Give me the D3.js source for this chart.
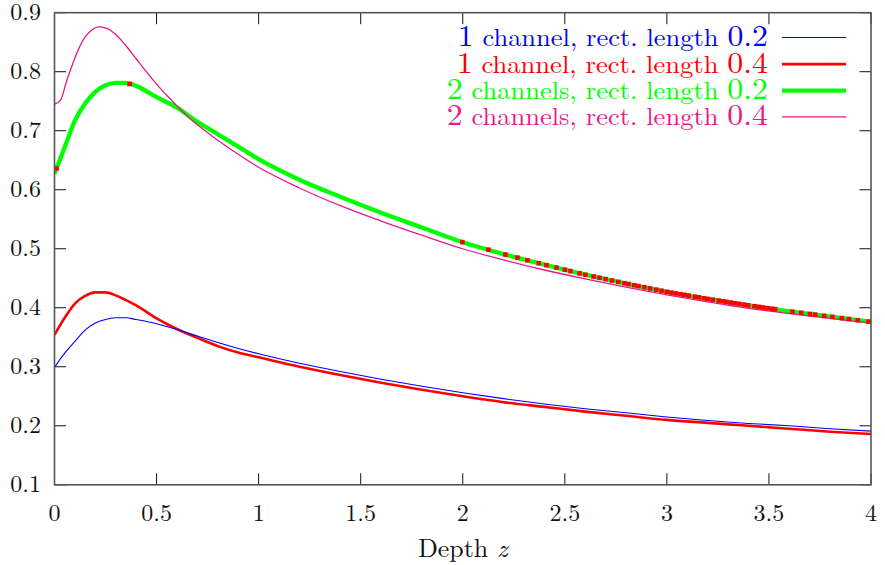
<!DOCTYPE html>
<html>
<head>
<meta charset="utf-8">
<script src="https://cdn.jsdelivr.net/npm/d3@7"></script>
<style>
  html, body { margin: 0; padding: 0; background: #fff; }
</style>
</head>
<body>
<svg id="chart" width="885" height="565"></svg>
<script>
// ---- data ----
const xTicks = [0, 0.5, 1, 1.5, 2, 2.5, 3, 3.5, 4];
const xTickLabels = ["0", "0.5", "1", "1.5", "2", "2.5", "3", "3.5", "4"];
const yTicks = [0.1, 0.2, 0.3, 0.4, 0.5, 0.6, 0.7, 0.8, 0.9];
const yTickLabels = ["0.1", "0.2", "0.3", "0.4", "0.5", "0.6", "0.7", "0.8", "0.9"];

const depth = [0, 0.05, 0.1, 0.15, 0.2, 0.25, 0.3, 0.35, 0.4, 0.5, 0.6, 0.7, 0.8, 0.9, 1.0,
               1.2, 1.4, 1.6, 1.8, 2.0, 2.2, 2.4, 2.6, 2.8, 3.0, 3.2, 3.4, 3.6, 3.8, 4.0];

const oneChan02 = [0.299, 0.323, 0.343, 0.362, 0.374, 0.380, 0.383, 0.383, 0.380, 0.373, 0.363, 0.352, 0.341, 0.331, 0.322,
                   0.306, 0.292, 0.279, 0.267, 0.256, 0.246, 0.237, 0.229, 0.222, 0.215, 0.209, 0.204, 0.200, 0.195, 0.191];
const oneChan04 = [0.354, 0.383, 0.407, 0.420, 0.426, 0.426, 0.421, 0.413, 0.404, 0.382, 0.364, 0.349, 0.335, 0.324, 0.316,
                   0.300, 0.286, 0.273, 0.261, 0.250, 0.240, 0.232, 0.224, 0.217, 0.210, 0.205, 0.200, 0.195, 0.190, 0.186];
const twoChan02 = [0.627, 0.672, 0.717, 0.746, 0.766, 0.777, 0.781, 0.781, 0.776, 0.757, 0.739, 0.715, 0.694, 0.673, 0.652,
                   0.617, 0.588, 0.561, 0.536, 0.511, 0.491, 0.473, 0.456, 0.441, 0.427, 0.415, 0.404, 0.394, 0.385, 0.376];

const depthPink = [0, 0.03, 0.06, 0.09, 0.12, 0.15, 0.18, 0.22, 0.26, 0.3, 0.35, 0.4, 0.45, 0.5, 0.55, 0.6, 0.65, 0.7, 0.8, 0.9, 1.0,
                   1.2, 1.4, 1.6, 1.8, 2.0, 2.2, 2.4, 2.6, 2.8, 3.0, 3.2, 3.4, 3.6, 3.8, 4.0];
const twoChan04 = [0.745, 0.752, 0.785, 0.814, 0.840, 0.859, 0.870, 0.876, 0.873, 0.863, 0.844, 0.822, 0.800, 0.779, 0.760, 0.742, 0.725, 0.710, 0.684, 0.660, 0.638,
                   0.603, 0.573, 0.547, 0.523, 0.500, 0.481, 0.464, 0.449, 0.435, 0.422, 0.410, 0.399, 0.390, 0.382, 0.374];

// red specks visible on top of the green curve (depth positions)
const redSpecks = [0.01, 0.368, 1.998, 2.126, 2.209, 2.268, 2.317, 2.372, 2.41, 2.459, 2.5, 2.528, 2.572, 2.601, 2.641, 2.67,
                   2.7, 2.731, 2.762, 2.792, 2.812, 2.84, 2.861, 2.89, 2.918, 2.948, 2.974, 3.0, 3.022, 3.043, 3.066, 3.086,
                   3.107, 3.138, 3.156, 3.181, 3.202, 3.225, 3.254, 3.272, 3.291, 3.312, 3.332, 3.355, 3.378, 3.398, 3.429,
                   3.45, 3.471, 3.494, 3.516, 3.53, 3.615, 3.658, 3.701, 3.727, 3.771, 3.811, 3.857, 3.892, 3.935, 3.988];

const seriesNames = ["1 channel, rect. length 0.2", "1 channel, rect. length 0.4",
                     "2 channels, rect. length 0.2", "2 channels, rect. length 0.4"];
const legendParts = [["1", " channel, rect. length ", "0.2"], ["1", " channel, rect. length ", "0.4"],
                     ["2", " channels, rect. length ", "0.2"], ["2", " channels, rect. length ", "0.4"]];
const colors = ["#0000ff", "#ff0000", "#00ff00", "#e8198b"];
const widths = [1.1, 2.6, 4.3, 1.3];

// ---- drawing ----
const FONT = "'Latin Modern Roman', 'Liberation Serif', serif";
const svg = d3.select("#chart");
const L = 54.5, R = 871, T = 12.7, B = 484.8;
const x = d3.scaleLinear().domain([0, 4]).range([L, R]);
const y = d3.scaleLinear().domain([0.1, 0.9]).range([B, T]);

const series = [
  {xs: depth, ys: oneChan02},
  {xs: depth, ys: oneChan04},
  {xs: depth, ys: twoChan02},
  {xs: depthPink, ys: twoChan04}
];

// ticks (all four sides, inward)
const tickLen = 11.5;
const gT = svg.append("g").attr("stroke", "#111").attr("stroke-width", 1);
xTicks.forEach(v => {
  gT.append("line").attr("x1", x(v)).attr("x2", x(v)).attr("y1", B).attr("y2", B - tickLen);
  gT.append("line").attr("x1", x(v)).attr("x2", x(v)).attr("y1", T).attr("y2", T + tickLen);
});
yTicks.forEach(v => {
  gT.append("line").attr("x1", L).attr("x2", L + tickLen).attr("y1", y(v)).attr("y2", y(v));
  gT.append("line").attr("x1", R).attr("x2", R - tickLen).attr("y1", y(v)).attr("y2", y(v));
});

// tick labels
const lab = svg.append("g").attr("fill", "#111").style("font-family", FONT).style("font-size", "24px");
xTicks.forEach((v, i) => {
  lab.append("text").attr("x", x(v)).attr("y", 521).attr("text-anchor", "middle").text(xTickLabels[i]);
});
yTicks.forEach((v, i) => {
  lab.append("text").attr("x", 41).attr("y", y(v) + 7.5).attr("text-anchor", "end").text(yTickLabels[i]);
});

// axis title
const at = svg.append("text").attr("x", (L + R) / 2).attr("y", 557).attr("text-anchor", "middle")
  .attr("fill", "#111").style("font-family", FONT).style("font-size", "26px");
at.append("tspan").text("Depth ");
at.append("tspan").attr("font-style", "italic").text("z");

// curves
svg.append("clipPath").attr("id", "clip").append("rect")
  .attr("x", L).attr("y", T).attr("width", R - L).attr("height", B - T);
const plot = svg.append("g").attr("clip-path", "url(#clip)");
const lineGen = s => d3.line().x((d, i) => x(s.xs[i])).y(d => y(d)).curve(d3.curveMonotoneX)(s.ys);
[2, 3, 1, 0].forEach(k => {
  plot.append("path").attr("d", lineGen(series[k])).attr("fill", "none")
    .attr("stroke", colors[k]).attr("stroke-width", widths[k]).attr("stroke-linejoin", "round");
});
// red specks on the green curve
const greenInterp = z => {
  const i = Math.max(1, d3.bisectLeft(depth, z));
  const x0 = depth[i - 1], x1 = depth[i];
  const t = (z - x0) / (x1 - x0);
  return twoChan02[i - 1] + t * (twoChan02[i] - twoChan02[i - 1]);
};
plot.append("g").selectAll("rect").data(redSpecks).join("rect")
  .attr("x", d => x(d) - 2.3).attr("y", d => y(greenInterp(d)) - 2.3)
  .attr("width", 4.6).attr("height", 4.6).attr("fill", "#ff0000");

// frame
svg.append("rect").attr("x", L).attr("y", T).attr("width", R - L).attr("height", B - T)
  .attr("fill", "none").attr("stroke", "#555").attr("stroke-width", 1.6);

// legend
const legY = [46, 72.6, 99.2, 125.4];
const legStart = [457.7, 456.7, 446.7, 446.7];
const legEnd = 768;
legendParts.forEach((p, i) => {
  const t = svg.append("text").attr("x", legStart[i]).attr("y", legY[i]).attr("fill", colors[i])
    .style("font-family", FONT)
    .attr("textLength", legEnd - legStart[i]).attr("lengthAdjust", "spacingAndGlyphs");
  t.append("tspan").style("font-size", "30px").text(p[0]);
  t.append("tspan").style("font-size", "25px").text(p[1]);
  t.append("tspan").style("font-size", "30px").text(p[2]);
  svg.append("line").attr("x1", 782).attr("x2", 846).attr("y1", legY[i] - 8.5).attr("y2", legY[i] - 8.5)
    .attr("stroke", colors[i]).attr("stroke-width", widths[i]);
});
</script>
</body>
</html>
